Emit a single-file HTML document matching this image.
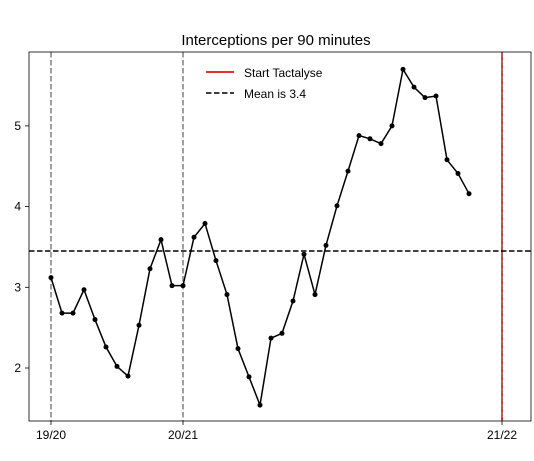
<!DOCTYPE html>
<html><head><meta charset="utf-8"><style>
body{margin:0;background:#fff}
text{font-family:"Liberation Sans","DejaVu Sans",sans-serif}
</style></head><body>
<svg id="c" width="534" height="456" xmlns="http://www.w3.org/2000/svg">
<text x="276" y="45" font-size="15" text-anchor="middle">Interceptions per 90 minutes</text>
</svg>
<script>
const values=[3.12,2.68,2.68,2.97,2.6,2.26,2.02,1.9,2.53,3.23,3.59,3.02,3.02,3.62,3.79,3.33,2.91,2.24,1.89,1.54,2.37,2.43,2.83,3.41,2.91,3.52,4.01,4.44,4.88,4.84,4.78,5.0,5.7,5.48,5.35,5.37,4.58,4.41,4.16];
const meanValue=3.45;
const yTicks=[2,3,4,5];
const seasonLabels=["19/20","20/21","21/22"];
const seasonIndex=[0,12,41];
const startIndex=41;
const svg=document.getElementById('c');
const NS='http://www.w3.org/2000/svg';
const L=29,R=531,T=52,B=421;
const x=i=>51+i*11;
const y=v=>368-(v-2)*80.7;
function mk(tag,attrs,name){const e=document.createElementNS(NS,tag);for(const k in attrs)e.setAttribute(k,attrs[k]);


svg.appendChild(e);return e;}
seasonIndex.forEach((s,k)=>{
 if(k<2) mk('line',{x1:x(s),x2:x(s),y1:T,y2:B,stroke:'#808080','stroke-width':1.5,'stroke-dasharray':'5.5,2.5'},'season-line');
 mk('line',{x1:x(s),x2:x(s),y1:B,y2:B+4,stroke:'#000','stroke-width':0.8},'x-tick');
 const t=mk('text',{x:x(s),y:B+18,'font-size':12,'text-anchor':'middle'},'x-tick-label');t.textContent=seasonLabels[k];
});
mk('line',{x1:x(startIndex),x2:x(startIndex),y1:T,y2:B,stroke:'#e83030','stroke-width':2},'start-tactalyse-line');
mk('line',{x1:x(startIndex),x2:x(startIndex),y1:T,y2:B,stroke:'#808080','stroke-width':1.2,'stroke-dasharray':'5.5,2.5'},'season-line');
mk('line',{x1:L,x2:R,y1:y(meanValue),y2:y(meanValue),stroke:'#000','stroke-width':1.5,'stroke-dasharray':'5.5,2.5'},'mean-line');
yTicks.forEach(v=>{
 mk('line',{x1:L-4,x2:L,y1:y(v),y2:y(v),stroke:'#000','stroke-width':0.8},'y-tick');
 const t=mk('text',{x:L-8,y:y(v)+4,'font-size':12,'text-anchor':'end'},'y-tick-label');t.textContent=v;
});
mk('polyline',{points:values.map((v,i)=>x(i)+','+y(v)).join(' '),fill:'none',stroke:'#000','stroke-width':1.5},'series-line');
values.forEach((v,i)=>mk('circle',{cx:x(i),cy:y(v),r:2.5,fill:'#000'},'data-point'));
mk('rect',{x:L,y:T,width:R-L,height:B-T,fill:'none',stroke:'#000','stroke-width':0.8},'plot-frame');
mk('line',{x1:206,x2:234,y1:72,y2:72,stroke:'#e83030','stroke-width':2},'legend-start-swatch');
let t=mk('text',{x:244,y:77,'font-size':12},'legend-start-label');t.textContent='Start Tactalyse';
mk('line',{x1:206,x2:234,y1:93,y2:93,stroke:'#000','stroke-width':1.5,'stroke-dasharray':'5.5,2.5'},'legend-mean-swatch');
t=mk('text',{x:244,y:98,'font-size':12},'legend-mean-label');t.textContent='Mean is 3.4';
</script>
</body></html>
